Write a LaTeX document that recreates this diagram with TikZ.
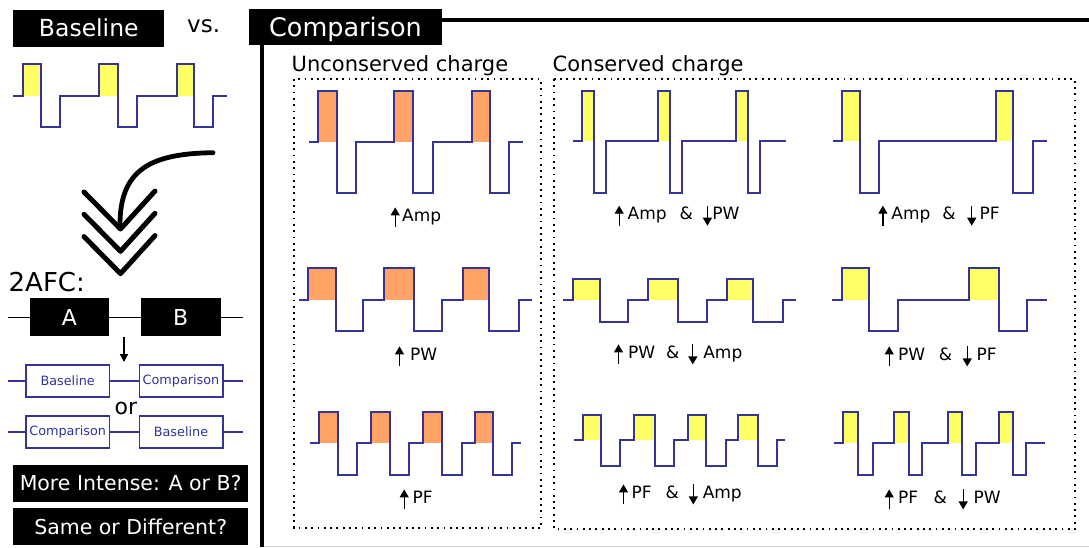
\documentclass[tikz,border=0pt]{standalone}
\usepackage{fontspec}
\setmainfont{DejaVu Sans}
\usetikzlibrary{arrows.meta}
\definecolor{wavecol}{RGB}{51,51,153}
\definecolor{pulseY}{RGB}{255,255,102}
\definecolor{pulseO}{RGB}{255,163,102}
\newcommand\myfs[1]{\fontsize{#1}{#1}\selectfont}
\newcommand\ua{\tikz[baseline=0pt,x=1pt,y=1pt]{\useasboundingbox (-4.5,-6.4) rectangle (4.5,13.6); \draw[line width=1.2pt,-{Triangle[length=8pt,width=9pt]}] (0,-6.4)--(0,13.6);}}
\newcommand\da{\tikz[baseline=0pt,x=1pt,y=1pt]{\useasboundingbox (-4.5,-6.4) rectangle (4.5,13.6); \draw[line width=1.2pt,-{Triangle[length=8pt,width=9pt]}] (0,13.6)--(0,-6.4);}}
\newcommand\wave[7]{%
  \foreach \xa/\xb/\xc in {#7}{\fill[#1] (\xa,#3) rectangle (\xb,#2);}%
  \draw[waveline] (#5,#2) \foreach \xa/\xb/\xc in {#7}{ -| (\xa,#3) -| (\xb,#4) -| (\xc,#2)} -- (#6,#2);%
}
\begin{document}
\begin{tikzpicture}[x=1pt,y=-1pt,
  waveline/.style={draw=wavecol,line width=2.1pt,line join=miter},
  tab/.style={fill=black,text=white,inner sep=0pt},
  seqbox/.style={draw=wavecol,line width=1.6pt,fill=white,text=wavecol,inner sep=0pt,minimum height=32pt,minimum width=83.4pt,font=\myfs{12.8}},
  lbl/.style={inner sep=0pt,anchor=base west,font=\myfs{17}},
  ttl/.style={inner sep=0pt,anchor=base west,font=\myfs{21}},
  dotbox/.style={line width=1.8pt,dash pattern=on 1.8pt off 4.5pt},
  chev/.style={line width=5pt,line cap=round,line join=round},
  seqline/.style={draw=wavecol,line width=1.6pt},
]
\useasboundingbox (0,0) rectangle (1089,547);
\fill[white] (0,0) rectangle (1089,547);

% ---------- left panel ----------
\node[tab,minimum width=151pt,minimum height=37.4pt,text height=17pt,text depth=0pt,font=\myfs{23.5}] (basetab) at (88.8,28.3) {Baseline};
\node[inner sep=0pt,anchor=base west,font=\myfs{23}] (vs) at (187,32.3) {vs.};

\wave{pulseY}{95.7}{64}{127}{13}{227}{22.7/40.7/60, 99/118/137, 177/194/213}

\draw[line width=4.8pt,line cap=round] (213,152.7) .. controls (150,153.5) and (119.5,170) .. (120,226);
\foreach \k in {0,22.3,44.6}
  \draw[chev] (84,192+\k) -- (120.5,229+\k) -- (155,191+\k);

\node[inner sep=0pt,anchor=base west,font=\myfs{26}] (afc) at (8.5,291.7) {2AFC:};

\coordinate (abl) at (8,317.2);
\coordinate (abr) at (243,317.2);
\node[tab,minimum width=79pt,minimum height=37.7pt,font=\myfs{22}] (boxA) at (69.5,317.2) {A};
\node[tab,minimum width=80pt,minimum height=37.7pt,font=\myfs{22}] (boxB) at (180.7,317.2) {B};
\draw[line width=1pt] (abl) -- (boxA.west);
\draw[line width=1pt] (boxA.east) -- (boxB.west);
\draw[line width=1pt] (boxB.east) -- (abr);

\coordinate (arrtop) at (124,337);
\coordinate (arrbot) at (124,362);
\draw[line width=1.4pt,-{Triangle[length=8pt,width=8pt]}] (arrtop) -- (arrbot);

\coordinate (s1l) at (8,381);
\coordinate (s1r) at (243,381);
\node[seqbox] (sb1) at (67.7,381) {Baseline};
\node[seqbox] (sc1) at (181,381) {Comparison};
\draw[seqline] (s1l) -- (sb1.west);
\draw[seqline] (sb1.east) -- (sc1.west);
\draw[seqline] (sc1.east) -- (s1r);

\node[inner sep=0pt,anchor=base,font=\myfs{22}] (or) at (126,414) {or};

\coordinate (s2l) at (8,432);
\coordinate (s2r) at (243,432);
\node[seqbox] (sc2) at (67.7,432) {Comparison};
\node[seqbox] (sb2) at (181,432) {Baseline};
\draw[seqline] (s2l) -- (sc2.west);
\draw[seqline] (sc2.east) -- (sb2.west);
\draw[seqline] (sb2.east) -- (s2r);

\node[tab,minimum width=235.3pt,minimum height=36.7pt,text height=14.9pt,text depth=0pt,font=\myfs{20.5}] (q1) at (130.7,483.3) {More Intense: A or B?};
\node[tab,minimum width=235.3pt,minimum height=36.7pt,text height=14.9pt,text depth=0pt,font=\myfs{20.5}] (q2) at (130.7,526.7) {Same or Different?};

% ---------- comparison frame ----------
\draw[line width=3.5pt] (442,20) -- (1089,20);
\draw[line width=4pt] (262,44) -- (262,547);
\draw[gray!35,line width=1pt] (264,546) -- (1089,546);
\node[tab,minimum width=193pt,minimum height=36pt,text height=18.6pt,text depth=0pt,font=\myfs{25.5}] (comptab) at (345.5,27) {Comparison};

\node[ttl] (tu) at (291.5,71.7) {Unconserved charge};
\node[ttl] (tc) at (552.5,71.7) {Conserved charge};
\draw[dotbox] (294,79) rectangle (541,528);
\draw[dotbox] (554,79) rectangle (1075,529);

% unconserved
\wave{pulseO}{141.7}{90.7}{193.3}{309}{522.7}{318.3/336.7/356, 394.3/413.3/432.7, 472/490/509.3}
\wave{pulseO}{300}{268.3}{331}{299}{531.7}{308.3/335.7/363.3, 384.3/414/442.3, 462.7/489.3/519}
\wave{pulseO}{442.7}{411.7}{475}{310}{520.7}{319.3/337.7/357.3, 370.7/390/409.3, 423.3/441.7/461.7, 475/493.3/511.7}

% conserved col 1
\wave{pulseY}{141}{90.7}{193.3}{572.7}{785.7}{581.7/594.3/605.7, 657.7/670/682.3, 736/748.3/760}
\wave{pulseY}{300}{279}{321.7}{563.3}{796}{572.7/600/628.3, 648.3/677.7/706.7, 726.7/753.3/782.7}
\wave{pulseY}{440}{415}{466}{574.3}{785}{583.3/601/620, 634.3/655/674, 687.7/706/725.7, 738.3/757.7/776.7}

% conserved col 2
\wave{pulseY}{141}{90.7}{193.3}{832.7}{1046.7}{842.3/860/879.3, 996/1013.3/1032.7}
\wave{pulseY}{300}{268.3}{331}{832.3}{1046.7}{841.7/869.3/897.7, 969.3/999.3/1026.7}
\wave{pulseY}{442.7}{412.3}{475}{834.3}{1045}{843.3/857.7/873.3, 894.3/909/921.7, 947.7/961.7/976, 999.3/1013.3/1026}

% labels
\node[lbl] (lu1) at (390.5,221) {\ua\hspace{2.5pt}Amp};
\node[lbl] (lu2) at (394.8,360) {\ua\hspace{6pt}PW};
\node[lbl] (lu3) at (399.5,503) {\ua\hspace{4pt}PF};
\node[lbl] (lc1) at (614.5,219.3) {\ua\hspace{4pt}Amp\hspace{13pt}\&\hspace{10pt}\da\hspace{0.5pt}PW};
\node[lbl] (lc2) at (613.8,358) {\ua\hspace{5pt}PW\hspace{11pt}\&\hspace{9pt}\da\hspace{6pt}Amp};
\node[lbl] (lc3) at (618.8,498) {\ua\hspace{3.5pt}PF\hspace{14pt}\&\hspace{10pt}\da\hspace{5pt}Amp};
\node[lbl] (ld1) at (878.2,219.3) {\ua\hspace{4pt}Amp\hspace{12pt}\&\hspace{11.6pt}\da\hspace{3.4pt}PF};
\node[lbl] (ld2) at (884.5,360) {\ua\hspace{4.3pt}PW\hspace{13.7pt}\&\hspace{10.7pt}\da\hspace{5pt}PF};
\node[lbl] (ld3) at (884.5,503) {\ua\hspace{4.3pt}PF\hspace{15.7pt}\&\hspace{11.7pt}\da\hspace{6pt}PW};
\end{tikzpicture}
\end{document}
